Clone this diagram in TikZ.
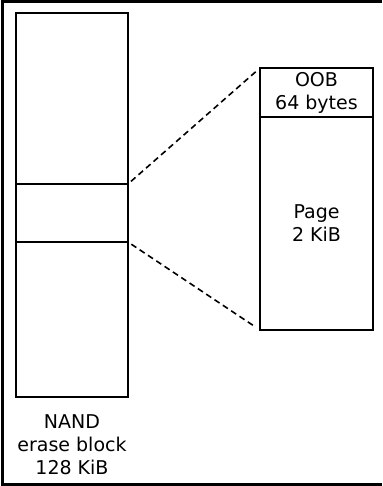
\documentclass[tikz,border=0pt]{standalone}
\usepackage{fontspec}
\setmainfont{DejaVu Sans}
\tikzset{
    cell/.style={draw, line width=1.6pt, minimum width=112pt, inner sep=0pt, outer sep=0pt, align=center},
    zoomline/.style={line width=1.6pt, dash pattern=on 6pt off 4pt, shorten <=4pt, shorten >=5pt},
}
\begin{document}
\begin{tikzpicture}[x=1pt, y=-1pt, font=\fontsize{19}{23}\selectfont]
        \useasboundingbox (0, 0) rectangle (382, 486);
        \draw[line width=3pt] (382, 2) -- (2, 2) -- (2, 484.5) -- (382, 484.5);
        % erase block
        \node (top) at (72, 98.5)[cell, minimum height=171pt]{};
        \node (mid) at (72, 213)[cell, minimum height=58pt]{};
        \node (bot) at (72, 319.5)[cell, minimum height=155pt]{};
        \node (blk) at (72, 445)[align=center]{NAND\\erase block\\128 KiB};
        % page
        \node (oob) at (316.5, 92.5)[cell, minimum width=113pt, minimum height=49pt]{OOB\\64 bytes};
        \node (page) at (316.5, 223.5)[cell, minimum width=113pt, minimum height=213pt]{Page\\2 KiB};
        \draw[zoomline] (mid.north east) -- (oob.north west);
        \draw[zoomline] (mid.south east) -- (page.south west);
    \end{tikzpicture}
\end{document}
